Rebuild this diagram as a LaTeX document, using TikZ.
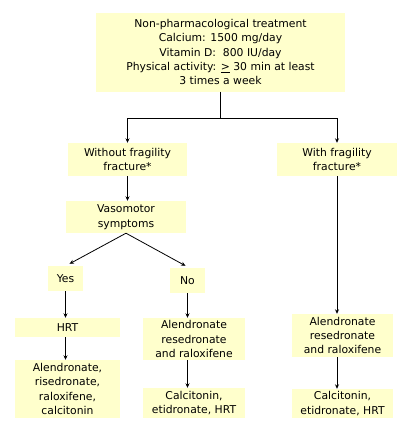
\documentclass[tikz,border=0pt]{standalone}
\usepackage{fontspec}
\setmainfont{DejaVu Sans}
\usetikzlibrary{arrows.meta,calc}
\definecolor{boxfill}{HTML}{FFFFCC}
\begin{document}
\begin{tikzpicture}[x=1pt,y=-1pt,
  box/.style={fill=boxfill,draw=none,align=center,inner sep=0pt,
    font=\fontsize{10.8}{14.4}\selectfont},
  arr/.style={-{Stealth[length=4.5pt,width=4pt]},line width=0.8pt},
  ln/.style={line width=0.8pt}]
\useasboundingbox (0,0) rectangle (408,429);
\node[box,minimum width=249pt,minimum height=79pt] (top) at (220.5,52)
  {Non-pharmacological treatment\\Calcium: 1500 mg/day\\Vitamin D:\ \ 800 IU/day\\Physical activity: \underline{>} 30 min at least\\3 times a week};
\node[box,minimum width=119pt,minimum height=33pt] (wo) at (127.5,159.5) {Without fragility\\fracture*};
\node[box,minimum width=120pt,minimum height=33pt] (wi) at (337,159.5) {With fragility\\fracture*};
\node[box,minimum width=120pt,minimum height=32pt] (vaso) at (126,217) {Vasomotor\\symptoms};
\node[box,minimum width=35pt,minimum height=25pt] (yes) at (65.5,278.5) {Yes};
\node[box,minimum width=35pt,minimum height=25pt] (no) at (187.5,280.5) {No};
\node[box,minimum width=105pt,minimum height=19pt] (hrt) at (67.5,327.5) {HRT};
\node[box,minimum width=105pt,minimum height=58pt] (alA) at (67.5,389) {Alendronate,\\risedronate,\\raloxifene,\\calcitonin};
\node[box,minimum width=102pt,minimum height=42pt] (alB) at (194,339) {Alendronate\\resedronate\\and raloxifene};
\node[box,minimum width=102pt,minimum height=30pt] (caB) at (194,403) {Calcitonin,\\etidronate, HRT};
\node[box,minimum width=101pt,minimum height=43pt] (alC) at (342.5,335.5) {Alendronate\\resedronate\\and raloxifene};
\node[box,minimum width=101pt,minimum height=29pt] (caC) at (342.5,403.5) {Calcitonin,\\etidronate, HRT};
\coordinate (j) at ($(top.south)+(0,27)$);
\draw[ln] (top.south) -- (j);
\draw[arr] (j) -| (wo.north);
\draw[arr] (j) -| (wi.north);
\draw[arr] (wo.south) -- (wo.south |- vaso.north);
\draw[arr] (vaso.south) -- ($(yes.north)+(4,-2)$);
\draw[arr] (vaso.south) -- ($(no.north)+(-2,-2)$);
\draw[arr] (yes.south) -- (yes.south |- hrt.north);
\draw[arr] (hrt.south -| yes.south) -- (yes.south |- alA.north);
\draw[arr] (no.south) -- (no.south |- alB.north);
\draw[arr] (alB.south -| no.south) -- (no.south |- caB.north);
\draw[arr] (wi.south) -- (wi.south |- alC.north);
\draw[arr] (alC.south -| wi.south) -- (wi.south |- caC.north);
\end{tikzpicture}
\end{document}
